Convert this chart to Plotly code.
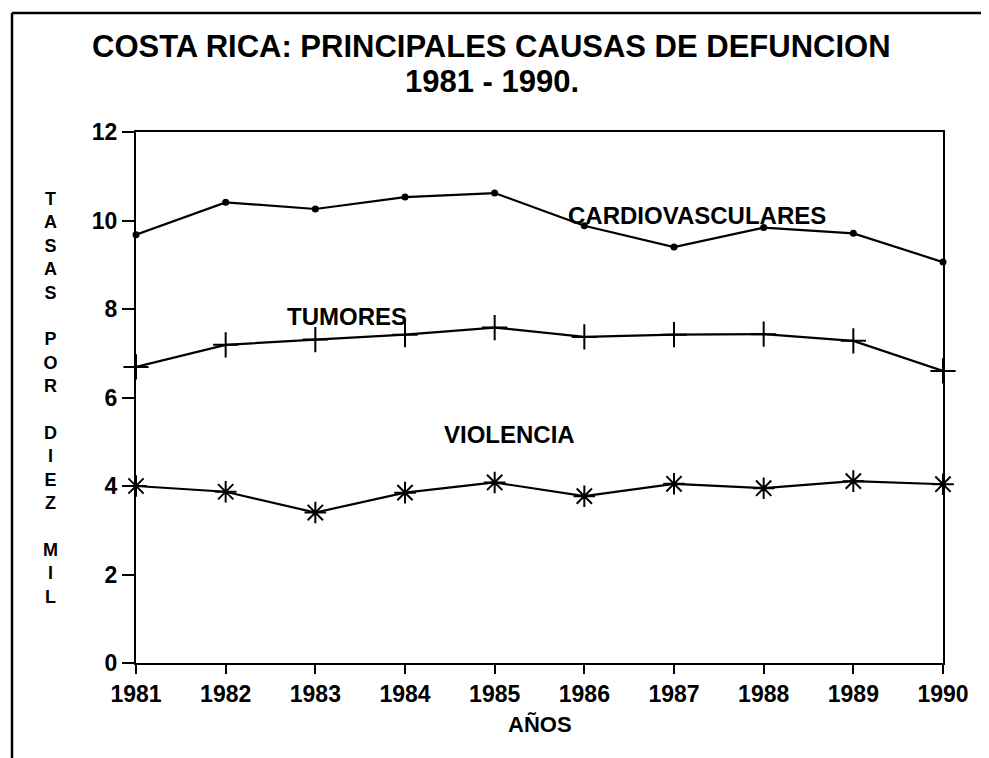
import plotly.graph_objects as go

years = [1981, 1982, 1983, 1984, 1985, 1986, 1987, 1988, 1989, 1990]
cardiovasculares = [9.68, 10.41, 10.26, 10.53, 10.62, 9.88, 9.40, 9.84, 9.71, 9.06]
tumores = [6.69, 7.19, 7.31, 7.42, 7.58, 7.37, 7.42, 7.43, 7.28, 6.60]
violencia = [4.00, 3.87, 3.40, 3.85, 4.08, 3.77, 4.05, 3.95, 4.11, 4.04]
y_ticks = [0, 2, 4, 6, 8, 10, 12]

title_line1 = "COSTA RICA: PRINCIPALES CAUSAS DE DEFUNCION"
title_line2 = "1981 - 1990."
y_title = "TASAS POR DIEZ MIL"
x_title = "AÑOS"

FONT = "Liberation Sans"
BLACK = "black"

# The page is rendered with an 8px body margin; the figure is sized to fit.
OFF = 8
L, T, R, B = 136, 132, 943, 663  # plot area in page pixels


def px(xp):
    return (xp - L) / (R - L)


def py(yp):
    return (B - yp) / (B - T)


fig = go.Figure()

fig.add_trace(go.Scatter(x=years, y=cardiovasculares, mode="lines+markers",
                         line=dict(color=BLACK, width=2.2),
                         marker=dict(symbol="circle", size=7, color=BLACK),
                         cliponaxis=False, name="CARDIOVASCULARES"))
fig.add_trace(go.Scatter(x=years, y=tumores, mode="lines+markers",
                         line=dict(color=BLACK, width=2.2),
                         marker=dict(symbol="cross-thin", size=18,
                                     line=dict(color=BLACK, width=2)),
                         cliponaxis=False, name="TUMORES"))
fig.add_trace(go.Scatter(x=years, y=violencia, mode="lines+markers",
                         line=dict(color=BLACK, width=2.2),
                         marker=dict(symbol="asterisk", size=18,
                                     line=dict(color=BLACK, width=2)),
                         cliponaxis=False, name="VIOLENCIA"))

labels = [("CARDIOVASCULARES", 1987.26, 10.12),
          ("TUMORES", 1983.35, 7.82),
          ("VIOLENCIA", 1985.16, 5.17)]
for txt, lx, ly in labels:
    fig.add_annotation(x=lx, y=ly, text="<b>%s</b>" % txt, showarrow=False,
                       font=dict(family=FONT, size=24, color=BLACK))

# stacked vertical y-axis title (one letter per line)
stack = "<br>".join(" " if c == " " else c for c in y_title)
fig.add_annotation(xref="paper", yref="paper", x=px(50), y=py(398),
                   text="<b>%s</b>" % stack, showarrow=False, xanchor="center",
                   yanchor="middle", font=dict(family=FONT, size=18, color=BLACK))

fig.add_annotation(xref="paper", yref="paper", x=0.5, y=py(724),
                   text="<b>%s</b>" % x_title, showarrow=False,
                   yanchor="middle", font=dict(family=FONT, size=22, color=BLACK))

fig.add_annotation(xref="paper", yref="paper", x=px(491), y=py(46),
                   text="<b>%s</b>" % title_line1, showarrow=False,
                   yanchor="middle", font=dict(family=FONT, size=31, color=BLACK))
fig.add_annotation(xref="paper", yref="paper", x=px(492), y=py(81),
                   text="<b>%s</b>" % title_line2, showarrow=False,
                   yanchor="middle", font=dict(family=FONT, size=31, color=BLACK))

# outer frame
fig.add_shape(type="line", xref="paper", yref="paper", x0=px(12), x1=px(1000),
              y0=py(13), y1=py(13), line=dict(color=BLACK, width=2.5))
fig.add_shape(type="line", xref="paper", yref="paper", x0=px(12), x1=px(12),
              y0=py(13), y1=py(770), line=dict(color=BLACK, width=2.5))

fig.update_xaxes(range=[1981, 1990], tickvals=years, ticktext=[str(y) for y in years],
                 showgrid=False, zeroline=False, showline=True, linecolor=BLACK,
                 linewidth=2, mirror=True, ticks="outside", ticklen=9, tickwidth=2,
                 tickcolor=BLACK,
                 tickfont=dict(family=FONT, size=23, color=BLACK, weight="bold"))
fig.update_yaxes(range=[0, 12], tickvals=y_ticks, showgrid=False, zeroline=False,
                 showline=True, linecolor=BLACK, linewidth=2, mirror=True,
                 ticks="outside", ticklen=12, tickwidth=2, tickcolor=BLACK,
                 tickfont=dict(family=FONT, size=23, color=BLACK, weight="bold"))

W, H = 989 - OFF, 758 - OFF
fig.update_layout(width=W, height=H, showlegend=False,
                  margin=dict(l=L - OFF, r=W - (R - OFF), t=T - OFF, b=H - (B - OFF)),
                  plot_bgcolor="white", paper_bgcolor="white")

fig.write_html("out.html")
